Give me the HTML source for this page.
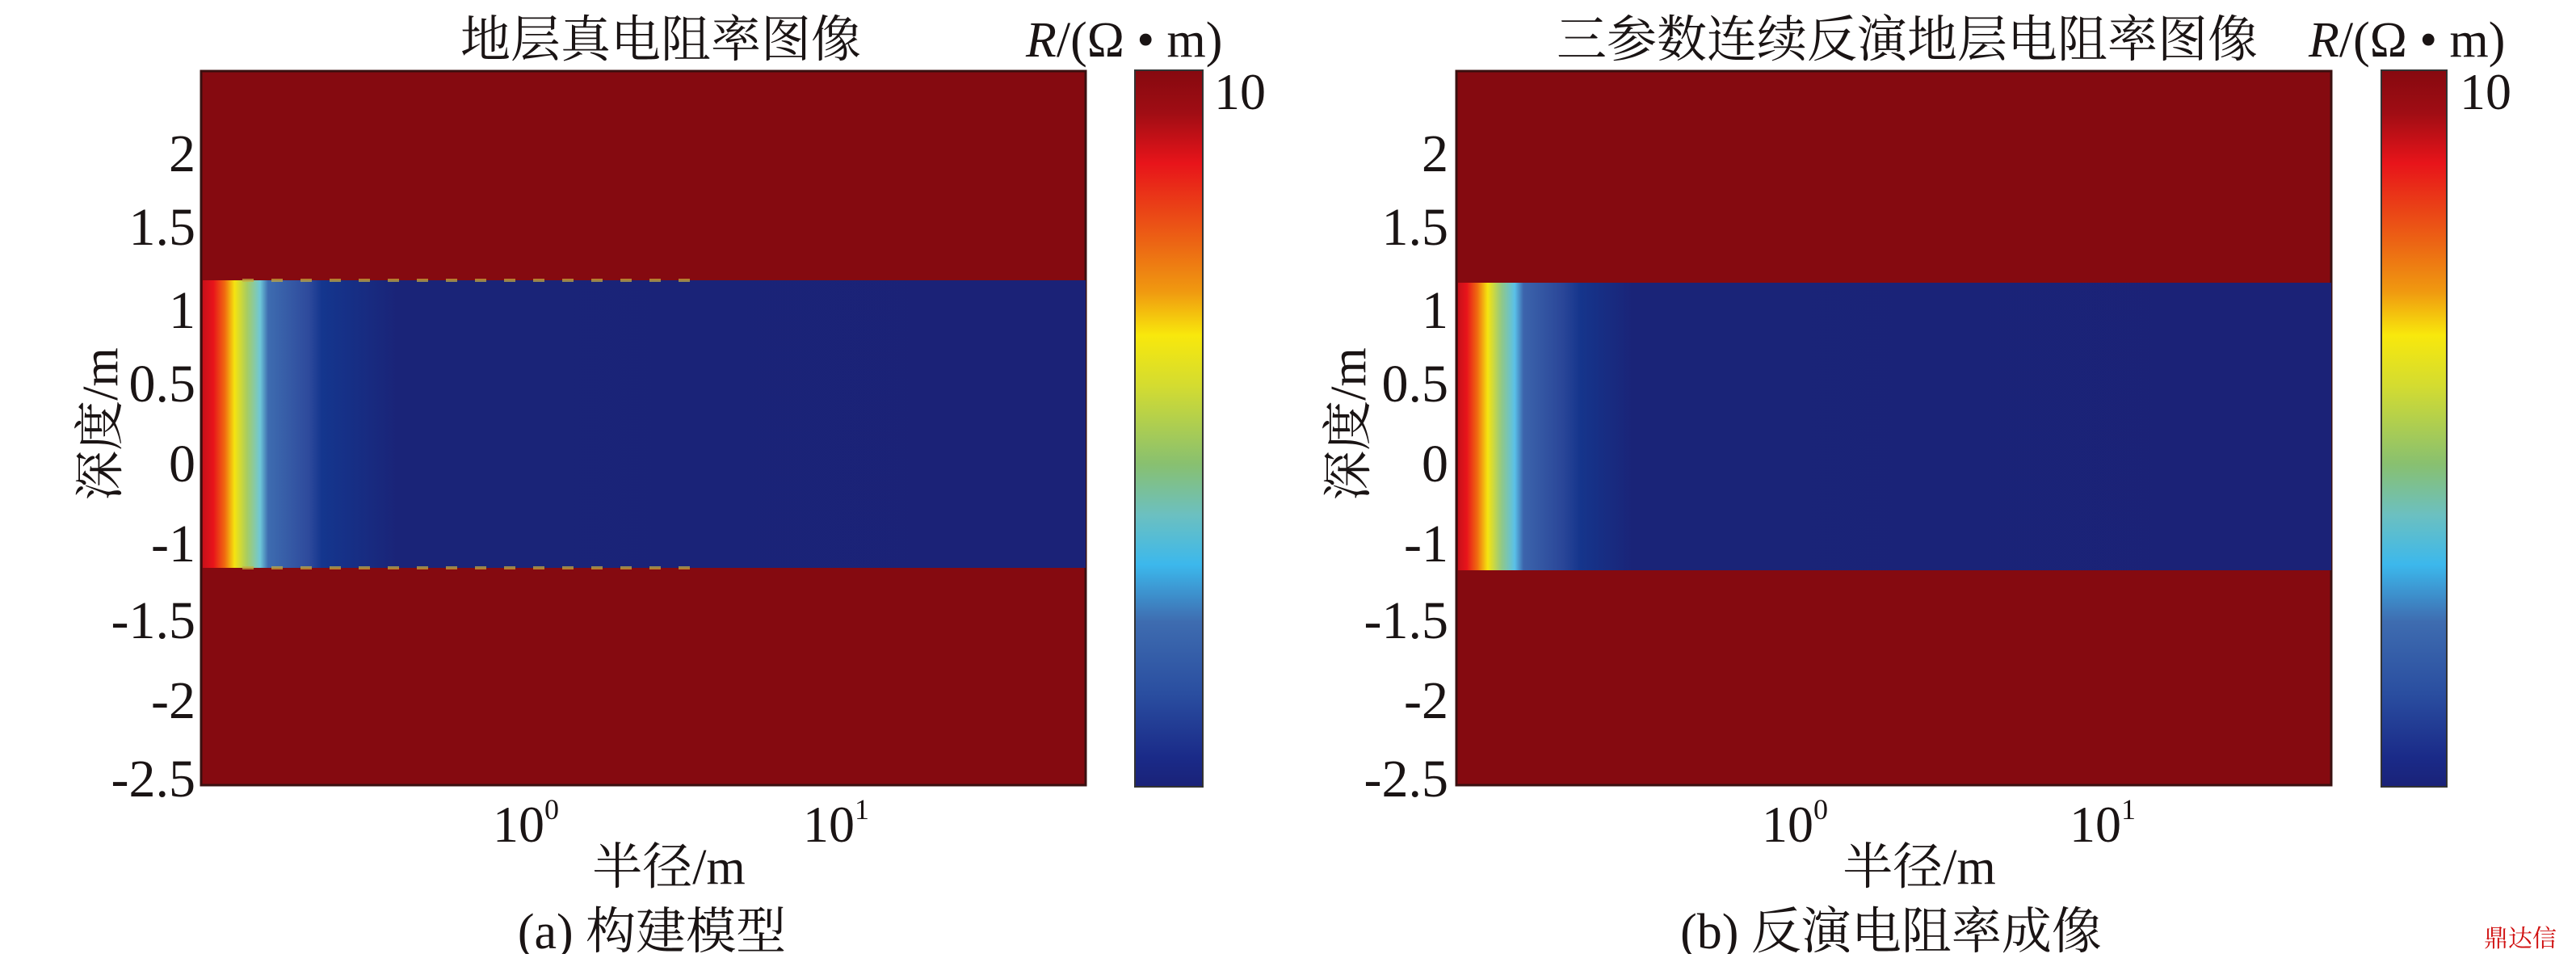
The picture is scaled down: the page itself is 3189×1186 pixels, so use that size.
<!DOCTYPE html>
<html><head><meta charset="utf-8"><style>
html,body{margin:0;padding:0;background:#fff;}
svg text{font-family:"Liberation Serif","Noto Serif CJK SC",serif;fill:#1a1414;}
</style></head><body>
<svg width="3189" height="1181" viewBox="0 0 3189 1181" xmlns="http://www.w3.org/2000/svg">
<defs>
<linearGradient id="bandL" x1="0" y1="0" x2="1" y2="0">
<stop offset="0" stop-color="#c8101a"/>
<stop offset="0.012" stop-color="#e8141a"/>
<stop offset="0.025" stop-color="#f06a10"/>
<stop offset="0.036" stop-color="#f5e410"/>
<stop offset="0.05" stop-color="#a8cc60"/>
<stop offset="0.065" stop-color="#6ec8d8"/>
<stop offset="0.074" stop-color="#3e6cb0"/>
<stop offset="0.12" stop-color="#2e4a9c"/>
<stop offset="0.135" stop-color="#14368e"/>
<stop offset="0.22" stop-color="#1a2478"/>
<stop offset="1" stop-color="#1b2277"/>
</linearGradient>
<linearGradient id="bandR" x1="0" y1="0" x2="1" y2="0">
<stop offset="0" stop-color="#c8101a"/>
<stop offset="0.01" stop-color="#e8141a"/>
<stop offset="0.022" stop-color="#f06a10"/>
<stop offset="0.034" stop-color="#f5e410"/>
<stop offset="0.05" stop-color="#90c888"/>
<stop offset="0.065" stop-color="#5ac0e8"/>
<stop offset="0.075" stop-color="#3c64ac"/>
<stop offset="0.12" stop-color="#2a4698"/>
<stop offset="0.14" stop-color="#15358c"/>
<stop offset="0.2" stop-color="#1a2478"/>
<stop offset="1" stop-color="#1b2277"/>
</linearGradient>
<linearGradient id="cbar" x1="0" y1="0" x2="0" y2="1">
<stop offset="0" stop-color="#86090f"/>
<stop offset="0.06" stop-color="#a00d14"/>
<stop offset="0.13" stop-color="#e8141a"/>
<stop offset="0.24" stop-color="#ec6414"/>
<stop offset="0.31" stop-color="#f09a10"/>
<stop offset="0.37" stop-color="#f8e80c"/>
<stop offset="0.44" stop-color="#d4dc30"/>
<stop offset="0.55" stop-color="#88c070"/>
<stop offset="0.62" stop-color="#6cc0c0"/>
<stop offset="0.69" stop-color="#3cb8ec"/>
<stop offset="0.77" stop-color="#3e6cb0"/>
<stop offset="0.87" stop-color="#2a4ea0"/>
<stop offset="0.96" stop-color="#1a2a88"/>
<stop offset="1" stop-color="#1a2278"/>
</linearGradient>
</defs>

<!-- LEFT PANEL -->
<rect x="249" y="88" width="1095" height="884" fill="#850a10" stroke="#3a1010" stroke-width="3"/>
<rect x="251" y="347" width="1093" height="356" fill="url(#bandL)"/>
<line x1="300" y1="347" x2="860" y2="347" stroke="#c8b040" stroke-width="4" stroke-dasharray="14 22" opacity="0.7"/>
<line x1="300" y1="703" x2="860" y2="703" stroke="#c8b040" stroke-width="4" stroke-dasharray="14 22" opacity="0.7"/>
<rect x="1405" y="87" width="84" height="887" fill="url(#cbar)" stroke="#333" stroke-width="2"/>
<g font-family="Liberation Serif, Noto Serif CJK SC, serif">
<text x="818" y="70" font-size="62" text-anchor="middle">地层真电阻率图像</text>
<text x="1270" y="70" font-size="62"><tspan font-style="italic">R</tspan>/(Ω • m)</text>
<text x="1503" y="135" font-size="64">10</text>
<g font-size="66" text-anchor="end">
<text x="242" y="212">2</text>
<text x="242" y="303">1.5</text>
<text x="242" y="406">1</text>
<text x="242" y="497">0.5</text>
<text x="242" y="596">0</text>
<text x="242" y="695">-1</text>
<text x="242" y="790">-1.5</text>
<text x="242" y="889">-2</text>
<text x="242" y="986">-2.5</text>
</g>
<text x="610" y="1042" font-size="64">10<tspan font-size="36" dy="-28">0</tspan></text>
<text x="994" y="1042" font-size="64">10<tspan font-size="36" dy="-28">1</tspan></text>
<text x="828" y="1094" font-size="62" text-anchor="middle">半径/m</text>
<text x="807" y="1174" font-size="62" text-anchor="middle">(a) 构建模型</text>
<text x="0" y="0" font-size="62" text-anchor="middle" transform="translate(145,525) rotate(-90)">深度/m</text>
</g>

<!-- RIGHT PANEL -->
<rect x="1803" y="88" width="1083" height="884" fill="#850a10" stroke="#3a1010" stroke-width="3"/>
<rect x="1805" y="350" width="1081" height="356" fill="url(#bandR)"/>
<rect x="2948" y="87" width="81" height="887" fill="url(#cbar)" stroke="#333" stroke-width="2"/>
<g font-family="Liberation Serif, Noto Serif CJK SC, serif">
<text x="2361" y="70" font-size="62" text-anchor="middle">三参数连续反演地层电阻率图像</text>
<text x="2858" y="70" font-size="62"><tspan font-style="italic">R</tspan>/(Ω • m)</text>
<text x="3045" y="135" font-size="64">10</text>
<g font-size="66" text-anchor="end">
<text x="1793" y="212">2</text>
<text x="1793" y="303">1.5</text>
<text x="1793" y="406">1</text>
<text x="1793" y="497">0.5</text>
<text x="1793" y="596">0</text>
<text x="1793" y="695">-1</text>
<text x="1793" y="790">-1.5</text>
<text x="1793" y="889">-2</text>
<text x="1793" y="986">-2.5</text>
</g>
<text x="2181" y="1042" font-size="64">10<tspan font-size="36" dy="-28">0</tspan></text>
<text x="2562" y="1042" font-size="64">10<tspan font-size="36" dy="-28">1</tspan></text>
<text x="2376" y="1094" font-size="62" text-anchor="middle">半径/m</text>
<text x="2341" y="1174" font-size="62" text-anchor="middle">(b) 反演电阻率成像</text>
<text x="0" y="0" font-size="62" text-anchor="middle" transform="translate(1690,525) rotate(-90)">深度/m</text>
<text x="3120" y="1172" font-size="30" text-anchor="middle" style="fill:#d01010">鼎达信</text>
</g>
</svg>
</body></html>
